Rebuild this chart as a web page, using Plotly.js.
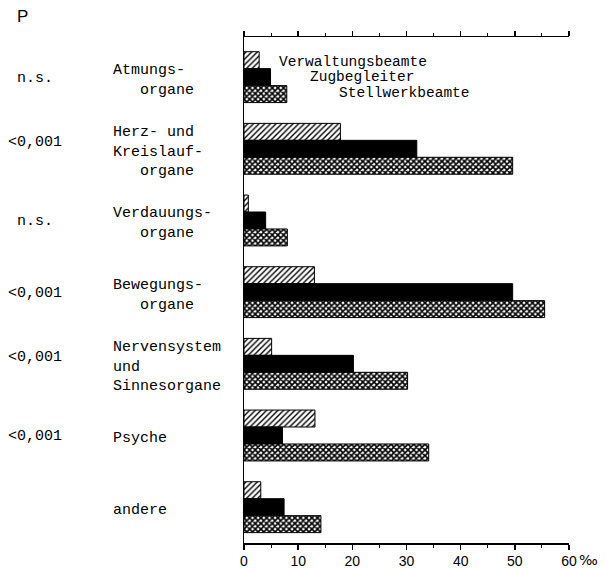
<!DOCTYPE html>
<html>
<head>
<meta charset="utf-8">
<script src="https://cdn.plot.ly/plotly-3.0.1.min.js"></script>
<style>html,body{margin:0;padding:0;background:#fff;}#chart{width:609px;height:568px;}</style>
</head>
<body>
<div id="chart"></div>
<script>
// ---- data ----
const categories = ['Atmungsorgane','Herz- und Kreislauforgane','Verdauungsorgane','Bewegungsorgane','Nervensystem und Sinnesorgane','Psyche','andere'];
const categoryLabels = [
  'Atmungs-<br>\u00a0\u00a0\u00a0organe',
  'Herz- und<br>Kreislauf-<br>\u00a0\u00a0\u00a0organe',
  'Verdauungs-<br>\u00a0\u00a0\u00a0organe',
  'Bewegungs-<br>\u00a0\u00a0\u00a0organe',
  'Nervensystem<br>und<br>Sinnesorgane',
  'Psyche',
  'andere'
];
const pValues = ['n.s.','<0,001','n.s.','<0,001','<0,001','<0,001',''];
const seriesNames = ['Verwaltungsbeamte','Zugbegleiter','Stellwerkbeamte'];
const verwaltung = [2.8, 17.8, 0.8, 13.0, 5.1, 13.1, 3.1];
const zugbegleiter = [4.9, 31.9, 4.0, 49.6, 20.2, 7.1, 7.4];
const stellwerk = [7.9, 49.6, 8.0, 55.5, 30.2, 34.1, 14.2];
const xTickVals = [0,10,20,30,40,50,60];
const xTickText = ['0','10','20','30','40','50','60'];

const mono = 'Liberation Mono, DejaVu Sans Mono, monospace';

const traces = [
  {type:'bar', orientation:'h', name:seriesNames[0], y:categories, x:verwaltung,
   marker:{color:'white', line:{color:'black', width:1},
     pattern:{shape:'/', fgcolor:'black', bgcolor:'white', size:4, solidity:0.35}}},
  {type:'bar', orientation:'h', name:seriesNames[1], y:categories, x:zugbegleiter,
   marker:{color:'black', line:{color:'black', width:1}}},
  {type:'bar', orientation:'h', name:seriesNames[2], y:categories, x:stellwerk,
   marker:{color:'white', line:{color:'black', width:1},
     pattern:{shape:'x', fgcolor:'black', bgcolor:'white', size:4, solidity:0.65}}}
];

const annotations = [];
categoryLabels.forEach((lab, i) => {
  const nLines = lab.split('<br>').length;
  annotations.push({xref:'paper', yref:'y', x:-0.41, y:i, xanchor:'left', yanchor:'middle',
    align:'left', text:lab, showarrow:false, yshift:-3,
    font:{family:mono, size:15, color:'black'}});
  if (pValues[i]) {
    annotations.push({xref:'paper', yref:'y', x:-0.643, y:i, xanchor:'center', yanchor:'middle',
      text:pValues[i].replace('<','&lt;'), showarrow:false, yshift:(nLines===3? 6 : -1),
      font:{family:mono, size:15, color:'black'}});
  }
});
const legPos = [[6.1, 15], [11.8, 0], [17.2, -16]];
seriesNames.forEach((s, k) => {
  annotations.push({xref:'x', yref:'y', x:legPos[k][0], y:0, yshift:legPos[k][1], xanchor:'left', yanchor:'middle',
    text:s, showarrow:false, font:{family:mono, size:14.5, color:'black'}});
});
annotations.push({xref:'paper', yref:'paper', x:-0.705, y:1.04, xanchor:'left', yanchor:'middle',
  text:'P', showarrow:false, font:{family:'Liberation Sans, Arial, sans-serif', size:17, color:'black'}});
annotations.push({xref:'x', yref:'paper', x:60, y:0, xshift:8, yshift:-17, xanchor:'left', yanchor:'middle',
  text:'‰', showarrow:false, font:{family:'DejaVu Sans, sans-serif', size:14, color:'black'}});

const layout = {
  width:609, height:568,
  margin:{l:244, r:40, t:37, b:25},
  paper_bgcolor:'white', plot_bgcolor:'white',
  showlegend:false,
  barmode:'group', bargap:0.29, bargroupgap:0,
  xaxis:{range:[0,60], tickvals:xTickVals, ticktext:xTickText, showgrid:false, zeroline:false,
    showline:true, linecolor:'black', linewidth:1.5, mirror:'allticks',
    ticks:'outside', ticklen:5, tickcolor:'black', tickwidth:1.5,
    minor:{dtick:5, ticks:'outside', ticklen:3, tickcolor:'black', tickwidth:1},
    tickfont:{family:'Liberation Sans, Arial, sans-serif', size:14, color:'black'}},
  yaxis:{type:'category', categoryorder:'array', categoryarray:categories, range:[6.5,-0.56],
    showticklabels:false, ticks:'', showgrid:false, zeroline:false,
    showline:true, linecolor:'black', linewidth:1.5, mirror:false},
  annotations:annotations
};

Plotly.newPlot('chart', traces, layout, {staticPlot:true, displayModeBar:false});
</script>
</body>
</html>
